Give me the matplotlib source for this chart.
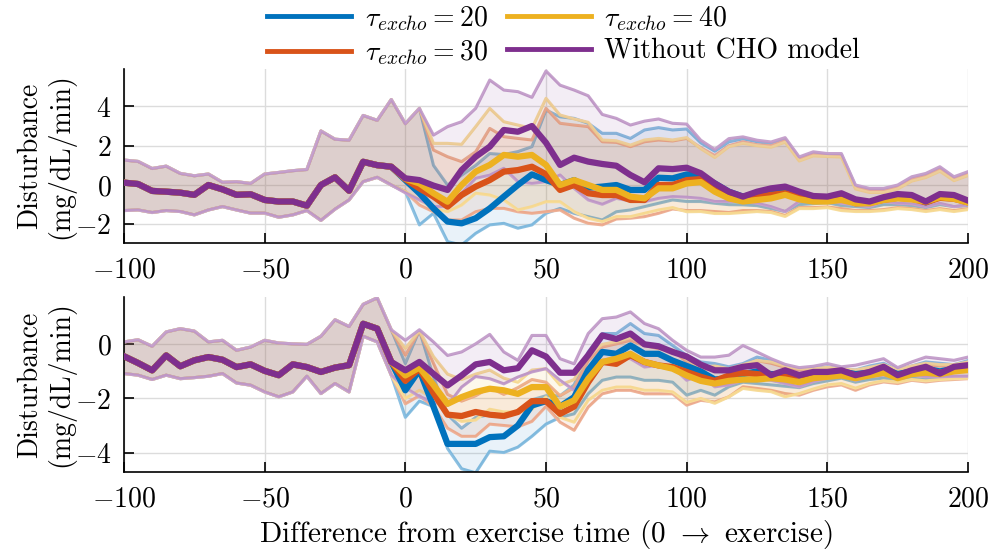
import numpy as np
import matplotlib
matplotlib.use("Agg")
import matplotlib.pyplot as plt
from matplotlib.colors import to_rgb
from matplotlib.lines import Line2D

plt.rcParams["font.family"] = "serif"
plt.rcParams["font.serif"] = ["cmr10", "DejaVu Serif"]
plt.rcParams["mathtext.fontset"] = "cm"
plt.rcParams["axes.formatter.use_mathtext"] = True

# time axis (min from exercise)
t_pre = np.arange(-100, 0, 5)
t_post = np.arange(0, 205, 5)

# ---------- top panel: before exercise all models coincide ----------
top_pre_med = [0.12, 0.05, -0.3, -0.34, -0.39, -0.5, 0.0, -0.22, -0.5, -0.47,
               -0.76, -0.84, -0.84, -1.05, 0.0, 0.39, -0.29, 1.18, 1.01, 0.93]
top_pre_up = [1.27, 1.2, 0.84, 0.96, 0.59, 0.47, 0.56, 0.14, 0.17, 0.08,
              0.56, 0.64, 0.73, 0.79, 2.75, 2.33, 2.28, 3.54, 3.29, 4.35]
top_pre_lo = [-1.3, -1.27, -1.4, -1.3, -1.35, -1.52, -1.27, -1.1, -1.27, -1.43,
              -1.43, -1.64, -1.52, -1.3, -1.8, -1.23, -0.76, 0.17, 0.39, 0.0]

top_tau20_med = [0.25, -0.42, -1.19, -1.86, -1.95, -1.69, -1.19, -0.59, 0.0, 0.54,
                 0.25, 0.0, 0.25, -0.14, -0.08, 0.0, -0.25, -0.25, 0.37, 0.34,
                 0.54, 0.45, 0.08, -0.34, -0.59, -0.45, -0.4, -0.35, -0.5, -0.65,
                 -0.65, -0.55, -0.8, -0.88, -0.7, -0.6, -0.62, -0.88, -0.6, -0.65, -0.85]
top_tau20_up = [3.12, 3.9, 1.0, 0.0, 0.5, 1.0, 1.6, 1.55, 1.7, 1.95,
                3.81, 3.47, 3.39, 3.14, 2.63, 2.63, 2.37, 2.8, 2.92, 2.8,
                2.85, 2.15, 1.72, 2.2, 2.35, 2.2, 2.1, 2.35, 1.38, 1.62,
                1.55, 1.55, -0.05, -0.22, -0.22, -0.05, 0.35, 0.5, 0.85, 0.35, 0.6]
top_tau20_lo = [-0.34, -2.03, -1.44, -2.88, -3.05, -2.46, -2.03, -1.95, -2.2, -2.03,
                -1.44, -1.19, -1.44, -1.61, -1.78, -1.36, -1.27, -1.1, -0.93, -0.76,
                -0.84, -0.84, -0.93, -1.0, -1.01, -1.05, -1.2, -1.35, -1.0, -0.95,
                -0.9, -1.05, -1.1, -1.15, -1.0, -1.0, -1.05, -1.15, -1.0, -1.1, -1.05]

top_tau30_med = [0.3, -0.17, -0.59, -1.1, -0.51, -0.08, 0.25, 0.68, 0.76, 0.93,
                 0.55, -0.25, 0.0, -0.42, -0.51, -0.51, -0.76, -0.76, 0.0, 0.0,
                 0.25, 0.3, -0.17, -0.5, -0.68, -0.6, -0.5, -0.42, -0.6, -0.76,
                 -0.76, -0.6, -0.93, -0.9, -0.75, -0.65, -0.7, -0.88, -0.65, -0.7, -0.88]
top_tau30_up = [3.12, 3.9, 1.78, 1.44, 1.19, 1.69, 2.88, 2.46, 2.37, 2.29,
                3.9, 3.14, 3.05, 2.97, 2.2, 2.17, 1.95, 2.2, 2.29, 2.24,
                2.37, 1.9, 1.5, 2.0, 2.2, 2.05, 2.0, 2.25, 1.3, 1.55,
                1.5, 1.5, -0.12, -0.3, -0.3, -0.12, 0.28, 0.45, 0.78, 0.3, 0.55]
top_tau30_lo = [-0.34, -1.02, -1.36, -1.78, -1.78, -1.36, -1.19, -1.19, -1.36, -1.44,
                -1.36, -1.27, -1.69, -1.95, -2.03, -1.73, -1.69, -1.61, -1.44, -1.22,
                -1.3, -1.3, -1.35, -1.4, -1.3, -1.3, -1.35, -1.55, -1.15, -1.15,
                -1.12, -1.2, -1.3, -1.3, -1.25, -1.15, -1.2, -1.3, -1.2, -1.3, -1.2]

top_tau40_med = [0.32, 0.08, -0.42, -0.85, 0.0, 0.68, 1.02, 1.53, 1.44, 1.53,
                 1.02, 0.0, 0.25, 0.0, -0.25, -0.25, -0.59, -0.68, -0.17, -0.17,
                 0.08, 0.15, -0.34, -0.68, -0.84, -0.76, -0.68, -0.5, -0.73, -0.84,
                 -0.84, -0.76, -0.93, -0.93, -0.76, -0.68, -0.73, -0.84, -0.62, -0.7, -0.89]
top_tau40_up = [3.12, 3.9, 2.12, 2.12, 2.07, 2.97, 3.9, 3.22, 3.05, 2.88,
                4.41, 3.56, 3.36, 3.19, 2.29, 2.25, 2.03, 2.29, 2.37, 2.29,
                2.41, 1.85, 1.4, 1.95, 2.12, 2.0, 1.92, 2.18, 1.22, 1.48,
                1.45, 1.42, -0.2, -0.38, -0.38, -0.2, 0.2, 0.38, 0.7, 0.22, 0.48]
top_tau40_lo = [-0.34, -0.76, -1.19, -1.36, -1.02, -0.42, -0.51, -0.76, -1.27, -1.1,
                -0.85, -0.85, -1.36, -1.69, -1.86, -1.61, -1.61, -1.44, -1.27, -1.15,
                -1.36, -1.35, -1.45, -1.45, -1.4, -1.35, -1.4, -1.6, -1.2, -1.2,
                -1.15, -1.3, -1.35, -1.35, -1.3, -1.2, -1.25, -1.35, -1.25, -1.35, -1.25]

top_nocho_med = [0.34, 0.25, -0.03, -0.25, 0.76, 1.44, 1.95, 2.8, 2.71, 3.0,
                 2.15, 1.02, 1.39, 1.19, 1.07, 0.98, 0.51, 0.14, 0.85, 0.81,
                 0.88, 0.6, 0.08, -0.34, -0.59, -0.34, -0.17, -0.08, -0.34, -0.56,
                 -0.59, -0.42, -0.73, -0.84, -0.62, -0.46, -0.51, -0.84, -0.46, -0.51, -0.79]
top_nocho_up = [3.12, 3.9, 2.54, 2.97, 3.22, 3.9, 5.34, 4.83, 4.75, 4.46,
                5.8, 5.08, 4.83, 4.54, 3.59, 3.39, 3.05, 3.25, 3.36, 3.14,
                3.1, 2.28, 1.81, 2.36, 2.45, 2.28, 2.19, 2.41, 1.43, 1.69,
                1.6, 1.6, 0.0, -0.17, -0.17, 0.0, 0.42, 0.59, 0.93, 0.42, 0.68]
top_nocho_lo = [-0.4, -0.76, -1.1, -1.1, -0.42, 0.34, 0.5, 0.85, 0.17, 0.08,
                0.17, 0.51, -0.17, -0.76, -0.98, -0.68, -0.81, -0.85, -0.68, -0.59,
                -0.62, -0.68, -0.84, -0.84, -0.84, -0.93, -1.1, -1.35, -0.84, -0.84,
                -0.76, -0.93, -1.01, -1.1, -0.84, -0.93, -0.96, -1.1, -0.93, -1.1, -1.01]

# ---------- bottom panel ----------
bot_pre_med = [-0.44, -0.69, -0.96, -0.41, -0.81, -0.59, -0.47, -0.57, -0.84, -0.74,
               -0.98, -1.14, -0.74, -0.84, -1.02, -0.86, -0.77, 0.76, 0.58, -0.65]
bot_pre_up = [0.09, 0.17, -0.07, 0.46, 0.58, 0.49, 0.09, 0.15, -0.22, -0.1,
              0.15, 0.05, 0.02, 0.0, 0.3, 0.91, 0.66, 1.48, 1.72, 0.54]
bot_pre_lo = [-1.08, -1.14, -1.3, -1.14, -1.27, -1.23, -1.18, -1.08, -1.43, -1.51,
              -1.76, -1.94, -1.76, -1.18, -1.82, -1.45, -1.76, 0.3, 0.09, -1.14]

bot_tau20_med = [-1.7, -0.95, -2.3, -3.68, -3.68, -3.68, -3.43, -3.4, -3.0, -2.26,
                 -2.1, -2.3, -1.95, -0.95, -0.28, -0.35, -0.04, -0.35, -0.35, -0.6,
                 -0.8, -1.0, -1.3, -1.25, -1.1, -1.0, -1.1, -1.1, -1.15, -1.1,
                 -1.05, -1.0, -1.1, -1.05, -0.9, -1.1, -1.0, -0.9, -1.0, -0.9, -0.85]
bot_tau20_up = [-0.71, 0.52, -1.2, -2.6, -3.1, -2.7, -2.6, -2.7, -2.45, -2.05,
                -1.9, -1.9, -1.5, -0.28, 0.4, 0.4, 0.77, 0.4, 0.33, -0.04,
                -0.41, -0.65, -0.71, -0.83, -0.71, -0.47, -0.59, -0.77, -0.9, -0.9,
                -0.83, -0.9, -0.95, -0.8, -0.7, -0.95, -0.8, -0.65, -0.7, -0.75, -0.6]
bot_tau20_lo = [-2.7, -2.1, -2.3, -3.85, -4.6, -4.75, -3.95, -4.0, -3.8, -3.4,
                -2.95, -2.7, -2.57, -1.83, -1.33, -1.21, -1.21, -1.33, -1.33, -1.4,
                -1.88, -1.7, -1.88, -1.57, -1.4, -1.45, -1.5, -1.55, -1.6, -1.45,
                -1.35, -1.25, -1.4, -1.3, -1.25, -1.3, -1.25, -1.3, -1.3, -1.25, -1.25]

bot_tau30_med = [-1.35, -0.9, -1.8, -2.6, -2.65, -2.5, -2.6, -2.65, -2.5, -2.1,
                 -2.1, -2.57, -2.3, -1.4, -0.65, -0.72, -0.4, -0.65, -0.78, -0.84,
                 -1.02, -1.2, -1.35, -1.15, -1.05, -1.1, -1.15, -1.2, -1.15, -1.1,
                 -1.05, -1.0, -1.15, -1.1, -0.95, -1.15, -1.0, -0.95, -1.05, -0.95, -0.9]
bot_tau30_up = [-0.4, 0.5, -0.7, -1.85, -2.1, -1.9, -1.6, -1.85, -1.6, -1.3,
                -1.4, -1.9, -1.6, -0.6, -0.1, 0.02, 0.15, -0.04, -0.16, -0.22,
                -0.65, -0.96, -0.85, -0.95, -0.8, -0.6, -0.7, -0.85, -0.95, -0.95,
                -0.9, -0.95, -1.0, -0.9, -0.8, -1.0, -0.85, -0.75, -0.8, -0.8, -0.7]
bot_tau30_lo = [-2.2, -1.9, -2.3, -3.1, -3.4, -3.4, -2.95, -3.0, -3.05, -2.85,
                -2.3, -2.88, -3.18, -2.32, -1.83, -1.7, -1.7, -1.83, -1.83, -1.83,
                -2.25, -2.07, -2.13, -1.94, -1.57, -1.63, -1.7, -1.82, -1.88, -1.7,
                -1.57, -1.5, -1.7, -1.5, -1.39, -1.45, -1.33, -1.39, -1.33, -1.3, -1.27]

bot_tau40_med = [-1.15, -0.86, -1.5, -2.2, -1.95, -1.76, -1.64, -1.7, -1.83, -1.58,
                 -1.58, -2.3, -2.07, -1.27, -0.65, -0.53, -0.35, -0.65, -0.78, -0.9,
                 -1.15, -1.35, -1.45, -1.35, -1.3, -1.3, -1.25, -1.3, -1.4, -1.25,
                 -1.2, -1.15, -1.25, -1.15, -1.05, -1.25, -1.1, -1.05, -1.1, -1.0, -0.95]
bot_tau40_up = [-0.15, 0.5, -0.45, -1.1, -1.3, -1.1, -0.95, -1.25, -1.4, -0.95,
                -0.9, -1.5, -1.3, -0.4, 0.0, 0.1, 0.25, 0.05, -0.1, -0.2,
                -0.55, -0.85, -0.8, -0.9, -0.75, -0.6, -0.65, -0.8, -0.9, -0.9,
                -0.85, -0.9, -0.95, -0.85, -0.75, -0.95, -0.8, -0.7, -0.75, -0.75, -0.65]
bot_tau40_lo = [-2.0, -1.7, -2.0, -2.6, -2.85, -2.8, -2.4, -2.5, -2.5, -2.4,
                -1.95, -2.7, -2.88, -2.07, -1.7, -1.58, -1.58, -1.7, -1.7, -1.76,
                -2.15, -2.0, -2.18, -1.94, -1.63, -1.7, -1.75, -1.94, -1.82, -1.65,
                -1.5, -1.45, -1.62, -1.45, -1.35, -1.4, -1.3, -1.35, -1.3, -1.27, -1.25]

bot_nocho_med = [-0.96, -0.65, -1.09, -1.52, -1.15, -0.74, -0.65, -0.96, -0.88, -0.22,
                 -0.45, -1.05, -1.05, -0.4, 0.33, 0.2, 0.4, 0.0, -0.07, -0.28,
                 -0.45, -0.75, -0.96, -0.96, -0.83, -0.77, -1.14, -0.96, -1.14, -1.02,
                 -1.02, -0.96, -1.14, -1.02, -0.83, -1.14, -0.96, -0.83, -1.08, -0.83, -0.77]
bot_nocho_up = [0.15, 0.54, 0.09, -0.41, -0.28, 0.02, 0.37, -0.28, -0.59, 0.33,
                0.33, -0.53, -0.72, 0.4, 0.95, 1.01, 1.2, 0.77, 0.58, 0.15,
                -0.22, -0.47, -0.47, -0.4, -0.04, -0.28, -0.53, -0.74, -0.86, -0.81,
                -0.71, -0.83, -0.77, -0.65, -0.53, -0.86, -0.65, -0.47, -0.53, -0.59, -0.47]
bot_nocho_lo = [-1.6, -1.93, -2.14, -2.26, -1.58, -1.19, -1.27, -1.46, -1.21, -1.02,
                -0.9, -1.33, -1.7, -1.09, -0.6, -0.47, -0.53, -0.84, -0.78, -0.84,
                -1.33, -1.14, -1.57, -1.5, -1.33, -1.26, -1.33, -1.45, -1.57, -1.38,
                -1.26, -1.14, -1.33, -1.2, -1.14, -1.23, -1.14, -1.2, -1.2, -1.18, -1.18]

labels = [r"$\tau_{excho} = 20$", r"$\tau_{excho} = 30$",
          r"$\tau_{excho} = 40$", "Without CHO model"]
colors = ["#0072BD", "#D95319", "#EDB120", "#7E2F8E"]

t = np.concatenate([t_pre, t_post])
FS = 20


def full(pre, post):
    return np.concatenate([pre, post])


def lighten(c, k=0.45):
    r, g, b = to_rgb(c)
    return (1 - k + k * r, 1 - k + k * g, 1 - k + k * b)


top_series = [
    (top_tau20_med, top_tau20_up, top_tau20_lo),
    (top_tau30_med, top_tau30_up, top_tau30_lo),
    (top_tau40_med, top_tau40_up, top_tau40_lo),
    (top_nocho_med, top_nocho_up, top_nocho_lo),
]
bot_series = [
    (bot_tau20_med, bot_tau20_up, bot_tau20_lo),
    (bot_tau30_med, bot_tau30_up, bot_tau30_lo),
    (bot_tau40_med, bot_tau40_up, bot_tau40_lo),
    (bot_nocho_med, bot_nocho_up, bot_nocho_lo),
]


def draw_panel(ax, series, pre, ylim, yticks):
    pre_med, pre_up, pre_lo = pre
    # bounds + shaded band first, medians on top
    for (med, up, lo), c in zip(series, colors):
        u = full(pre_up, up)
        l = full(pre_lo, lo)
        ax.plot(t, u, color=lighten(c), lw=2.2, zorder=2)
        ax.plot(t, l, color=lighten(c), lw=2.2, zorder=2)
        ax.fill_between(t, l, u, color=c, alpha=0.085, lw=0, zorder=2)
    for (med, up, lo), c in zip(series, colors):
        ax.plot(t, full(pre_med, med), color=c, lw=4.5, zorder=4)
    ax.set_xlim(-100, 200)
    ax.set_ylim(*ylim)
    ax.set_xticks([-100, -50, 0, 50, 100, 150, 200])
    ax.set_yticks(yticks)
    ax.grid(True, color="#dcdcdc", lw=1.0, zorder=0)
    ax.set_axisbelow(True)
    for s in ["top", "right"]:
        ax.spines[s].set_visible(False)
    for s in ["left", "bottom"]:
        ax.spines[s].set_linewidth(1.2)
    ax.tick_params(direction="in", length=7, width=1.2, labelsize=FS)
    ax.tick_params(axis="x", pad=10)
    ax.tick_params(axis="y", pad=9)
    ax.set_ylabel("Disturbance\n(mg/dL/min)", fontsize=FS, linespacing=1.15)
    ax.yaxis.set_label_coords(-0.058, 0.5)


fig = plt.figure(figsize=(9.96, 5.58), dpi=100)
ax1 = fig.add_axes([0.1245, 0.5645, 0.8474, 0.3118])
ax2 = fig.add_axes([0.1245, 0.1541, 0.8474, 0.3136])

draw_panel(ax1, top_series, (top_pre_med, top_pre_up, top_pre_lo), (-2.95, 5.9), [-2, 0, 2, 4])
draw_panel(ax2, bot_series, (bot_pre_med, bot_pre_up, bot_pre_lo), (-4.72, 1.75), [-4, -2, 0])

ax2.set_xlabel(r"Difference from exercise time (0 $\rightarrow$ exercise)", fontsize=FS + 1, labelpad=4)

handles = [Line2D([], [], color=c, lw=3.5) for c in colors]
fig.legend(handles, labels, loc="upper center", bbox_to_anchor=(0.566, 1.0), ncol=2,
           frameon=False, fontsize=FS, handlelength=3.0, labelspacing=0.2,
           columnspacing=0.7, handletextpad=0.5, borderaxespad=0.1, borderpad=0.05)

fig.savefig("out.png", dpi=100)
